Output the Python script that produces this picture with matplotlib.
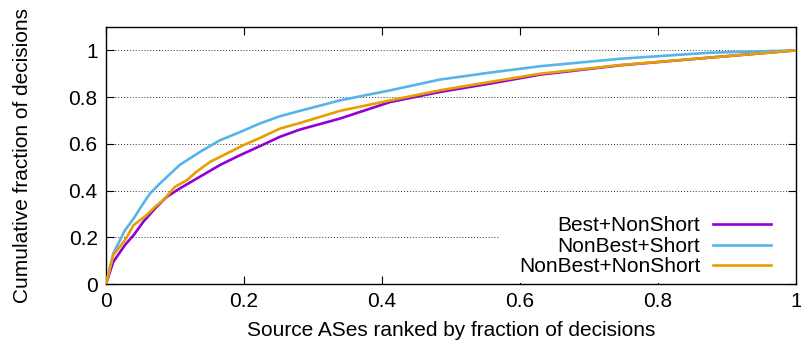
import matplotlib
matplotlib.use("Agg")
import matplotlib.pyplot as plt
from matplotlib.patches import Rectangle

plt.rcParams['font.family'] = ['Liberation Sans', 'DejaVu Sans']

labels = ["Best+NonShort", "NonBest+Short", "NonBest+NonShort"]
colors = ["#9400D3", "#56B4E9", "#E69F00"]

x_best = [0, 0.0106, 0.0275, 0.04, 0.054, 0.071, 0.088, 0.107, 0.136, 0.165, 0.194, 0.223, 0.252, 0.281,
          0.339, 0.412, 0.484, 0.557, 0.629, 0.745, 0.875, 1.0]
y_best = [0, 0.095, 0.167, 0.209, 0.266, 0.323, 0.373, 0.409, 0.459, 0.509, 0.551, 0.59, 0.63, 0.661,
          0.708, 0.779, 0.822, 0.858, 0.896, 0.936, 0.969, 1.0]

x_nbs = [0, 0.0106, 0.0275, 0.04, 0.054, 0.064, 0.078, 0.107, 0.136, 0.165, 0.194, 0.223, 0.252, 0.281,
         0.339, 0.412, 0.484, 0.557, 0.629, 0.745, 0.875, 1.0]
y_nbs = [0, 0.131, 0.23, 0.28, 0.345, 0.388, 0.43, 0.51, 0.565, 0.615, 0.65, 0.687, 0.718, 0.741,
         0.786, 0.829, 0.875, 0.905, 0.932, 0.964, 0.99, 1.0]

x_nbns = [0, 0.0106, 0.0275, 0.04, 0.059, 0.071, 0.083, 0.1, 0.117, 0.131, 0.151, 0.17, 0.199, 0.223, 0.252, 0.281,
          0.339, 0.412, 0.484, 0.557, 0.629, 0.745, 0.875, 1.0]
y_nbns = [0, 0.124, 0.188, 0.252, 0.295, 0.33, 0.359, 0.416, 0.444, 0.48, 0.523, 0.551, 0.594, 0.625, 0.665, 0.689,
          0.741, 0.786, 0.829, 0.865, 0.9, 0.937, 0.969, 1.0]

xticks = [0, 0.2, 0.4, 0.6, 0.8, 1]
xticklabels = ["0", "0.2", "0.4", "0.6", "0.8", "1"]
yticks = [0, 0.2, 0.4, 0.6, 0.8, 1]
yticklabels = ["0", "0.2", "0.4", "0.6", "0.8", "1"]

fig = plt.figure(figsize=(8.01, 3.45), dpi=100)
ax = fig.add_axes([106/801, 1 - 284/345, 690/801, 257/345])

for xs, ys, lab, c in zip([x_best, x_nbs, x_nbns], [y_best, y_nbs, y_nbns], labels, colors):
    ax.plot(xs, ys, color=c, lw=1.9, label=lab, zorder=3)

ax.set_xlim(0, 1)
ax.set_ylim(0, 1.1)
ax.set_xticks(xticks)
ax.set_xticklabels(xticklabels)
ax.set_yticks(yticks)
ax.set_yticklabels(yticklabels)
ax.tick_params(direction='in', length=6, width=0.8, top=True, right=True, labelsize=15, pad=6)
ax.yaxis.grid(True, linestyle=(0, (1, 2)), color='#333333', lw=0.7)
ax.set_axisbelow(True)
for s in ax.spines.values():
    s.set_linewidth(1.0)

# opaque legend background (gnuplot style key box)
ax.add_patch(Rectangle((0.571, 0.005), 0.429, 0.27, transform=ax.transAxes,
                       facecolor='white', edgecolor='none', zorder=1.5))

ax.set_xlabel("Source ASes ranked by fraction of decisions", fontsize=15, labelpad=7)
ax.set_ylabel("Cumulative fraction of decisions", fontsize=15, labelpad=26)

leg = ax.legend(loc='lower right', bbox_to_anchor=(0.973, 0.005), markerfirst=False, frameon=False,
                fontsize=15, handlelength=2.8, handletextpad=0.6, labelspacing=0.08,
                borderpad=0.3, borderaxespad=0)

fig.savefig("out.png", dpi=100)
